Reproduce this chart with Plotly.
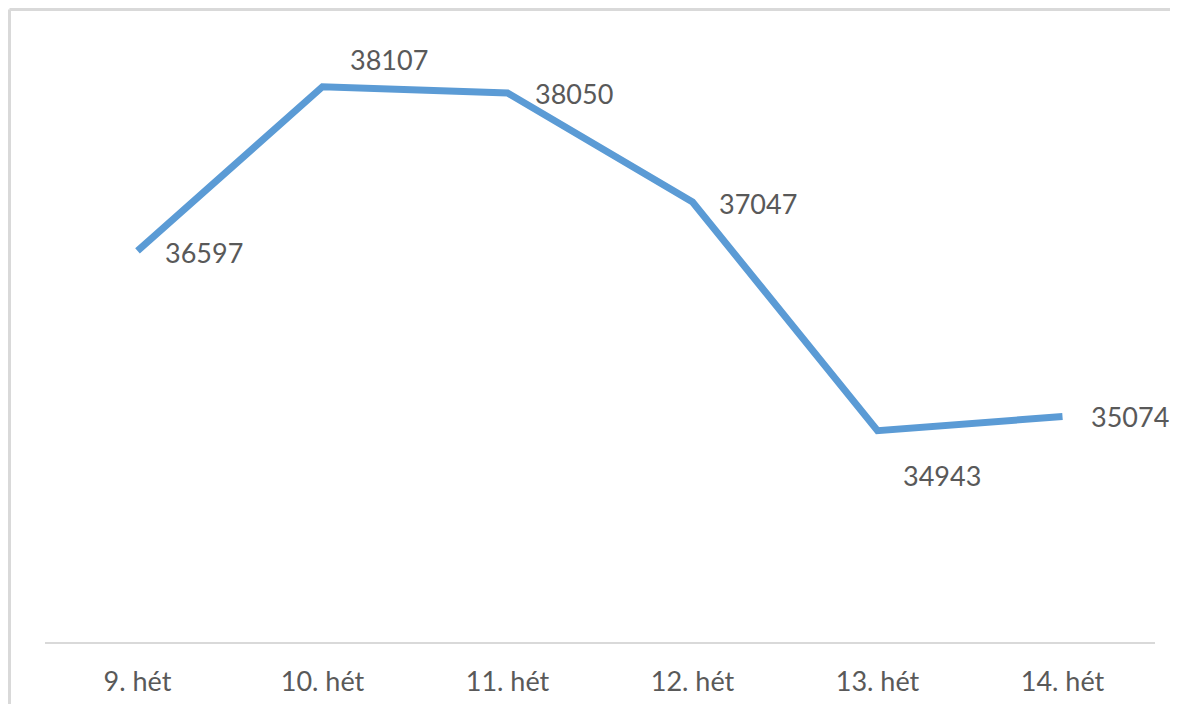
import plotly.graph_objects as go

# weekly values
weeks = ["9. hét", "10. hét", "11. hét", "12. hét", "13. hét", "14. hét"]
values = [36597, 38107, 38050, 37047, 34943, 35074]

# label offsets (pixels) for each data label
label_dx = [25, 25, 25, 24, 23, 26]
label_dy = [-2, 27, -1, -2, -45, 0]

font_family = "Lato, 'Open Sans', sans-serif"
text_color = "#595959"

fig = go.Figure()

fig.add_trace(go.Scatter(
  x=weeks, y=values,
  mode="lines",
  line=dict(color="#5B9BD5", width=7),
  hoverinfo="skip",
  showlegend=False
))

# data labels
for w, v, dx, dy in zip(weeks, values, label_dx, label_dy):
  fig.add_annotation(
    x=w, y=v, text=str(v),
    showarrow=False,
    xanchor="left", yanchor="middle",
    xshift=dx, yshift=dy,
    font=dict(family=font_family, size=27, color=text_color)
  )

# outer frame lines (left and top)
fig.add_shape(type="line", xref="paper", yref="paper",
  x0=-0.032, x1=-0.032, y0=-0.2, y1=1.0577,
  line=dict(color="#D9D9D9", width=3))
fig.add_shape(type="line", xref="paper", yref="paper",
  x0=-0.032, x1=1.1, y0=1.0577, y1=1.0577,
  line=dict(color="#D9D9D9", width=3))

# page body adds an 8px margin, so the figure is a bit smaller than the window
fig.update_layout(
  width=1162, height=696,
  margin=dict(l=37, r=15, t=36, b=62),
  paper_bgcolor="white",
  plot_bgcolor="white",
  font=dict(family=font_family, color=text_color),
)

fig.update_xaxes(
  type="category",
  automargin=False,
  showgrid=False, zeroline=False,
  showline=True, linecolor="#D9D9D9", linewidth=2,
  ticks="", ticklabelstandoff=15,
  tickfont=dict(family=font_family, size=27, color=text_color),
  range=[-0.5, 5.5]
)
fig.update_yaxes(
  range=[33000, 38500],
  automargin=False,
  showgrid=False, zeroline=False, showline=False,
  showticklabels=False
)

fig.write_html("out.html")
